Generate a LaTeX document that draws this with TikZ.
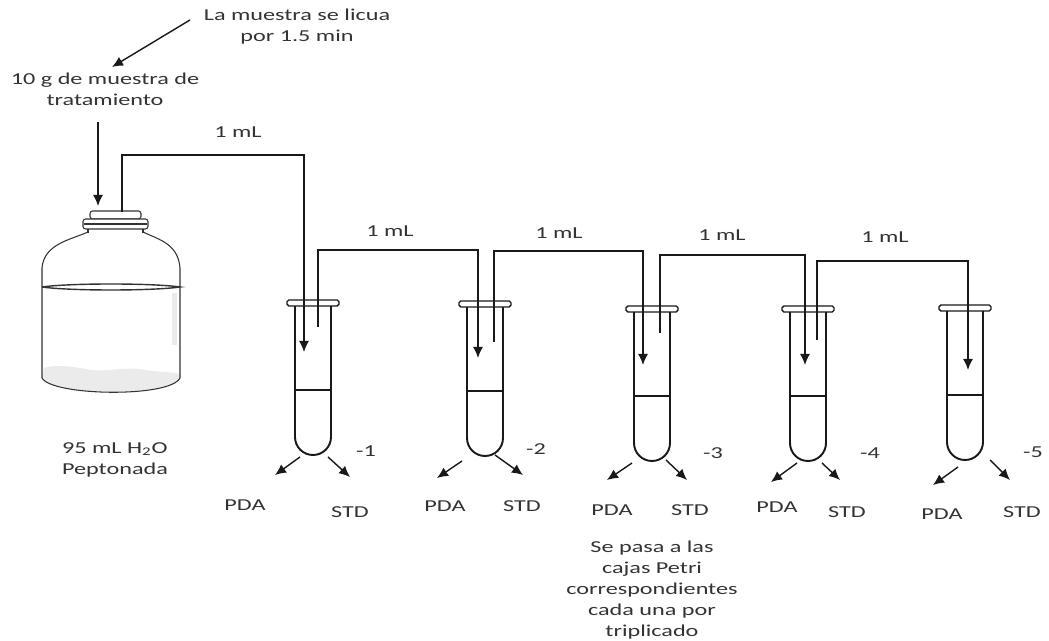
\documentclass[tikz,border=0pt]{standalone}
\usepackage{fontspec}
\setmainfont{Carlito}[FakeStretch=1.45]
\usepackage{tikz}
\usetikzlibrary{arrows.meta,calc}
\tikzset{
  lb/.style={font=\fontsize{9.5}{12}\selectfont,text=black!80,inner sep=0pt,align=center},
  flc/.style={-{Latex[length=2.2mm,width=2mm]},line width=.8pt,draw=black!90},
  pip/.style={line width=.8pt,draw=black!90},
  pipf/.style={pip,-{Latex[length=2.2mm,width=2mm]}},
  vid/.style={draw=black!80,line width=.6pt},
  pared/.style={draw=black!90,line width=1.1pt},
  liq/.style={draw=black!90,line width=.7pt},
  % a test tube, with its lip at the origin (y grows downwards here)
  tubo/.pic={
    \draw[pared] (-18,5) -- (-18,137) arc[start angle=180,end angle=0,radius=18] -- (18,5);
    \draw[draw=black!90,line width=.8pt,fill=white,rounded corners=1pt] (-26,0) rectangle (26,6);
    \draw[liq] (-17,90) -- (17,90);
  },
}

\begin{document}
\begin{tikzpicture}[x=0.02cm,y=-0.02cm]
\useasboundingbox (0,0) rectangle (1049,641);
% the sample and the bottle of peptone water
\node[lb] (licua) at (297,27) {La muestra se licua\\por 1.5 min};
\node[lb] (muestra) at (105,89) {10 g de muestra de\\tratamiento};
\coordinate (l0) at (190,20); \coordinate (l1) at (112,67);
\draw[flc] (l0) -- (l1);
\coordinate (m0) at (98,122); \coordinate (m1) at (98,206);
\draw[flc] (m0) -- (m1);
\fill[black!8] (44,368) .. controls (58,364) and (75,367) .. (92,370)
  .. controls (110,372) and (125,366) .. (145,370)
  .. controls (160,372) and (172,372) .. (180,374) -- (180,379)
  .. controls (165,396) and (58,396) .. (42,379) -- cycle;
\fill[black!8] (172,293) rectangle (177,345);
\draw[vid] (88,232) .. controls (70,240) and (44,244) .. (42,268) -- (42,378)
  .. controls (52,396) and (170,398) .. (180,378) -- (180,268)
  .. controls (178,244) and (160,240) .. (143,232);
\draw[vid,line width=.8pt] (42,287) .. controls (70,283) and (152,283) .. (180,287)
  .. controls (152,291) and (70,291) .. (42,287);
\draw[vid,fill=white,rounded corners=1.5pt] (90,211) rectangle (141,219);
\draw[vid,fill=white,rounded corners=1.5pt] (83,219) rectangle (148,229);
\draw[vid] (84,224) -- (147,224);
\draw[vid] (88,229) -- (88,233) (143,229) -- (143,233);
\node[lb,align=left] (pepto) at (115,460) {95 mL H\textsubscript{2}O\\Peptonada};
% the five dilution tubes
\pic at (313,300) {tubo};
\pic at (485,301) {tubo};
\pic at (652,306) {tubo};
\pic at (808,306) {tubo};
\pic at (965,305) {tubo};
% 1 mL carried from each vessel into the next
\coordinate (s0) at (122,212); \coordinate (c0) at (122,155); \coordinate (d1) at (304,352);
\draw[pipf] (s0) -- (c0) -| (d1);
\node[lb] (ml0) at (238,132) {1 mL};
\coordinate (s1) at (318,327); \coordinate (c1) at (318,250); \coordinate (d2) at (478,358);
\draw[pipf] (s1) -- (c1) -| (d2);
\node[lb] (ml1) at (390,231) {1 mL};
\coordinate (s2) at (494,342); \coordinate (c2) at (494,251); \coordinate (d3) at (643,365);
\draw[pipf] (s2) -- (c2) -| (d3);
\node[lb] (ml2) at (559,233) {1 mL};
\coordinate (s3) at (660,333); \coordinate (c3) at (660,255); \coordinate (d4) at (805,365);
\draw[pipf] (s3) -- (c3) -| (d4);
\node[lb] (ml3) at (722,235) {1 mL};
\coordinate (s4) at (817,340); \coordinate (c4) at (817,261); \coordinate (d5) at (968,370);
\draw[pipf] (s4) -- (c4) -| (d5);
\node[lb] (ml4) at (885,237) {1 mL};
% dilution factors
\node[lb] (f1) at (366,451) {-1};
\node[lb] (f2) at (536,449) {-2};
\node[lb] (f3) at (713,453) {-3};
\node[lb] (f4) at (870,453) {-4};
\node[lb] (f5) at (1033,452) {-5};
% plating of each tube
\node[lb] (pda1) at (245,505) {PDA}; \node[lb] (std1) at (350,512) {STD};
\node[lb] (pda2) at (445,506) {PDA}; \node[lb] (std2) at (522,506) {STD};
\node[lb] (pda3) at (612,510) {PDA}; \node[lb] (std3) at (690,510) {STD};
\node[lb] (pda4) at (777,507) {PDA}; \node[lb] (std4) at (847,512) {STD};
\node[lb] (pda5) at (942,514) {PDA}; \node[lb] (std5) at (1022,512) {STD};
\coordinate (a1) at (300,457); \coordinate (a1p) at (275,475);
\coordinate (b1) at (328,457); \coordinate (b1p) at (350,477);
\coordinate (a2) at (462,461); \coordinate (a2p) at (437,478);
\coordinate (b2) at (495,455); \coordinate (b2p) at (523,475);
\coordinate (a3) at (632,463); \coordinate (a3p) at (607,480);
\coordinate (b3) at (666,460); \coordinate (b3p) at (687,480);
\coordinate (a4) at (797,463); \coordinate (a4p) at (771,482);
\coordinate (b4) at (822,463); \coordinate (b4p) at (840,480);
\coordinate (a5) at (958,467); \coordinate (a5p) at (933,485);
\coordinate (b5) at (990,460); \coordinate (b5p) at (1010,480);
\draw[flc] (a1) -- (a1p); \draw[flc] (b1) -- (b1p);
\draw[flc] (a2) -- (a2p); \draw[flc] (b2) -- (b2p);
\draw[flc] (a3) -- (a3p); \draw[flc] (b3) -- (b3p);
\draw[flc] (a4) -- (a4p); \draw[flc] (b4) -- (b4p);
\draw[flc] (a5) -- (a5p); \draw[flc] (b5) -- (b5p);
\node[lb] (petri) at (652,590) {Se pasa a las\\cajas Petri\\correspondientes\\cada una por\\triplicado};
\end{tikzpicture}
\end{document}
